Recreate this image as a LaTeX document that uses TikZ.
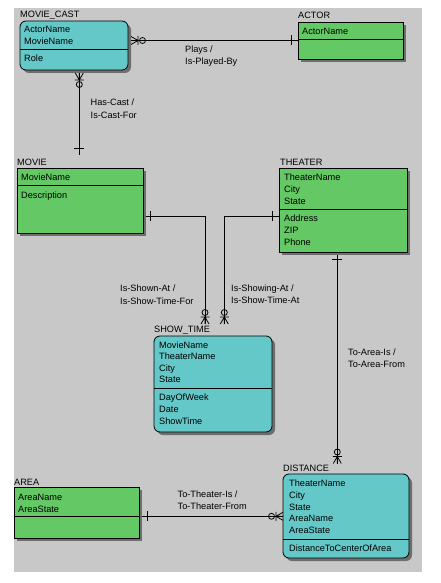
\documentclass[tikz,border=0pt]{standalone}
\usepackage{fontspec}
\setmainfont{Liberation Sans}
\usetikzlibrary{shadows}
\definecolor{bggray}{RGB}{200,200,200}
\definecolor{entgreen}{RGB}{100,200,100}
\definecolor{entteal}{RGB}{100,200,200}
\definecolor{shadowc}{RGB}{110,110,110}
\begin{document}
\begin{tikzpicture}[x=1pt,y=-1pt,
  ent/.style={draw=black, line width=0.8pt, anchor=north west, inner sep=0pt, outer sep=0pt,
    general shadow={shadow xshift=3pt, shadow yshift=-3pt, fill=shadowc, opacity=1}},
  grn/.style={ent, fill=entgreen},
  tl/.style={ent, fill=entteal, rounded corners=6pt},
  attr/.style={anchor=base west, inner sep=0pt, font=\fontsize{9.2}{11}\selectfont},
  conn/.style={draw, line width=0.8pt},
  zm/.pic={\draw[line width=0.8pt] (0,-4) -- (7,0) -- (0,4) (0,0) -- (7,0) (7,-4.5) -- (7,4.5);
           \draw[line width=0.8pt] (11.5,0) circle (3);},
  one/.pic={\draw[line width=0.8pt] (#1,-5) -- (#1,5);}]
\useasboundingbox (0,0) rectangle (440,583);
\fill[white] (0,0) rectangle (440,583);
\fill[bggray] (14,8) rectangle (422,572);

% MOVIE_CAST
\node[tl, minimum width=108pt, minimum height=49pt] (mc) at (20,21) {};
\draw[line width=0.8pt] (mc.west |- 0,49) -- (mc.east |- 0,49);
\node[attr] (mc-t) at (20,17.7) {MOVIE\_CAST};
\foreach \t [count=\i] in {ActorName,MovieName} \node[attr] (mc-k\i) at (24,{33+(\i-1)*11.5}) {\t};
\node[attr] (mc-n1) at (24,62) {Role};

% ACTOR
\node[grn, minimum width=105pt, minimum height=37pt] (ac) at (298,22) {};
\draw[line width=0.8pt] (ac.west |- 0,39) -- (ac.east |- 0,39);
\node[attr] (ac-t) at (298,18.3) {ACTOR};
\node[attr] (ac-k1) at (302,34.5) {ActorName};

% MOVIE
\node[grn, minimum width=126pt, minimum height=65pt] (mv) at (17,168) {};
\draw[line width=0.8pt] (mv.west |- 0,185) -- (mv.east |- 0,185);
\node[attr] (mv-t) at (17,165.7) {MOVIE};
\node[attr] (mv-k1) at (21,180) {MovieName};
\node[attr] (mv-n1) at (21,198) {Description};

% THEATER
\node[grn, minimum width=128pt, minimum height=84pt] (th) at (279,168) {};
\draw[line width=0.8pt] (th.west |- 0,209) -- (th.east |- 0,209);
\node[attr] (th-t) at (280,165.7) {THEATER};
\foreach \t [count=\i] in {TheaterName,City,State} \node[attr] (th-k\i) at (284,{180+(\i-1)*12}) {\t};
\foreach \t [count=\i] in {Address,ZIP,Phone} \node[attr] (th-n\i) at (284,{221+(\i-1)*12}) {\t};

% SHOW_TIME
\node[tl, minimum width=118pt, minimum height=96pt] (st) at (154,336) {};
\draw[line width=0.8pt] (st.west |- 0,388) -- (st.east |- 0,388);
\node[attr] (st-t) at (154,332.7) {SHOW\_TIME};
\foreach \t [count=\i] in {MovieName,TheaterName,City,State} \node[attr] (st-k\i) at (159,{348.5+(\i-1)*11.4}) {\t};
\foreach \t [count=\i] in {DayOfWeek,Date,ShowTime} \node[attr] (st-n\i) at (159,{400+(\i-1)*12}) {\t};

% DISTANCE
\node[tl, minimum width=126pt, minimum height=84pt] (di) at (283,474) {};
\draw[line width=0.8pt] (di.west |- 0,539) -- (di.east |- 0,539);
\node[attr] (di-t) at (283,471.7) {DISTANCE};
\foreach \t [count=\i] in {TheaterName,City,State,AreaName,AreaState} \node[attr] (di-k\i) at (289,{486.7+(\i-1)*11.7}) {\t};
\node[attr] (di-n1) at (289,551.7) {DistanceToCenterOfArea};

% AREA
\node[grn, minimum width=125pt, minimum height=51pt] (ar) at (14,487) {};
\draw[line width=0.8pt] (ar.west |- 0,516) -- (ar.east |- 0,516);
\node[attr] (ar-t) at (14,485) {AREA};
\foreach \t [count=\i] in {AreaName,AreaState} \node[attr] (ar-k\i) at (18,{500+(\i-1)*12}) {\t};

% connector ends
\coordinate (mcR) at (131,40.5);
\coordinate (acL) at (298,40.5);
\coordinate (mcB) at (79.3,73);
\coordinate (mvT) at (79.3,155);
\coordinate (mvR) at (146,216);
\coordinate (stT1) at (205,324);
\coordinate (thL) at (279,216);
\coordinate (stT2) at (224.3,324);
\coordinate (thB) at (337.3,255);
\coordinate (diT) at (337.3,463.5);
\coordinate (arR) at (142,516.3);
\coordinate (diL) at (283,516.3);

% Plays
\draw[conn] (mcR) -- (acL);
\pic[rotate=0] at (mcR) {zm};
\pic[rotate=180] at (acL) {one=7};
\node[attr] (l1a) at (185,53) {Plays /};
\node[attr] (l1b) at (185,64.5) {Is-Played-By};

% Has-Cast
\draw[conn] (mcB) -- (mvT);
\pic[rotate=-90] at (mcB) {zm};
\pic[rotate=90] at (mvT) {one=7};
\node[attr] (l2a) at (90.5,106) {Has-Cast /};
\node[attr] (l2b) at (90.5,118) {Is-Cast-For};

% Is-Shown-At
\draw[conn] (mvR) -| (stT1);
\pic[rotate=0] at (mvR) {one=4};
\pic[rotate=90] at (stT1) {zm};
\node[attr] (l3a) at (120,291.7) {Is-Shown-At /};
\node[attr] (l3b) at (120,304.5) {Is-Show-Time-For};

% Is-Showing-At
\draw[conn] (thL) -| (stT2);
\pic[rotate=180] at (thL) {one=7};
\pic[rotate=90] at (stT2) {zm};
\node[attr] (l4a) at (231,291.5) {Is-Showing-At /};
\node[attr] (l4b) at (231,303.5) {Is-Show-Time-At};

% To-Area-Is
\draw[conn] (thB) -- (diT);
\pic[rotate=-90] at (thB) {one=4};
\pic[rotate=90] at (diT) {zm};
\node[attr] (l5a) at (348,355.5) {To-Area-Is /};
\node[attr] (l5b) at (348,367.5) {To-Area-From};

% To-Theater-Is
\draw[conn] (arR) -- (diL);
\pic[rotate=0] at (arR) {one=5};
\pic[rotate=180] at (diL) {zm};
\node[attr] (l6a) at (177.5,497.3) {To-Theater-Is /};
\node[attr] (l6b) at (177.5,509) {To-Theater-From};
\end{tikzpicture}
\end{document}
